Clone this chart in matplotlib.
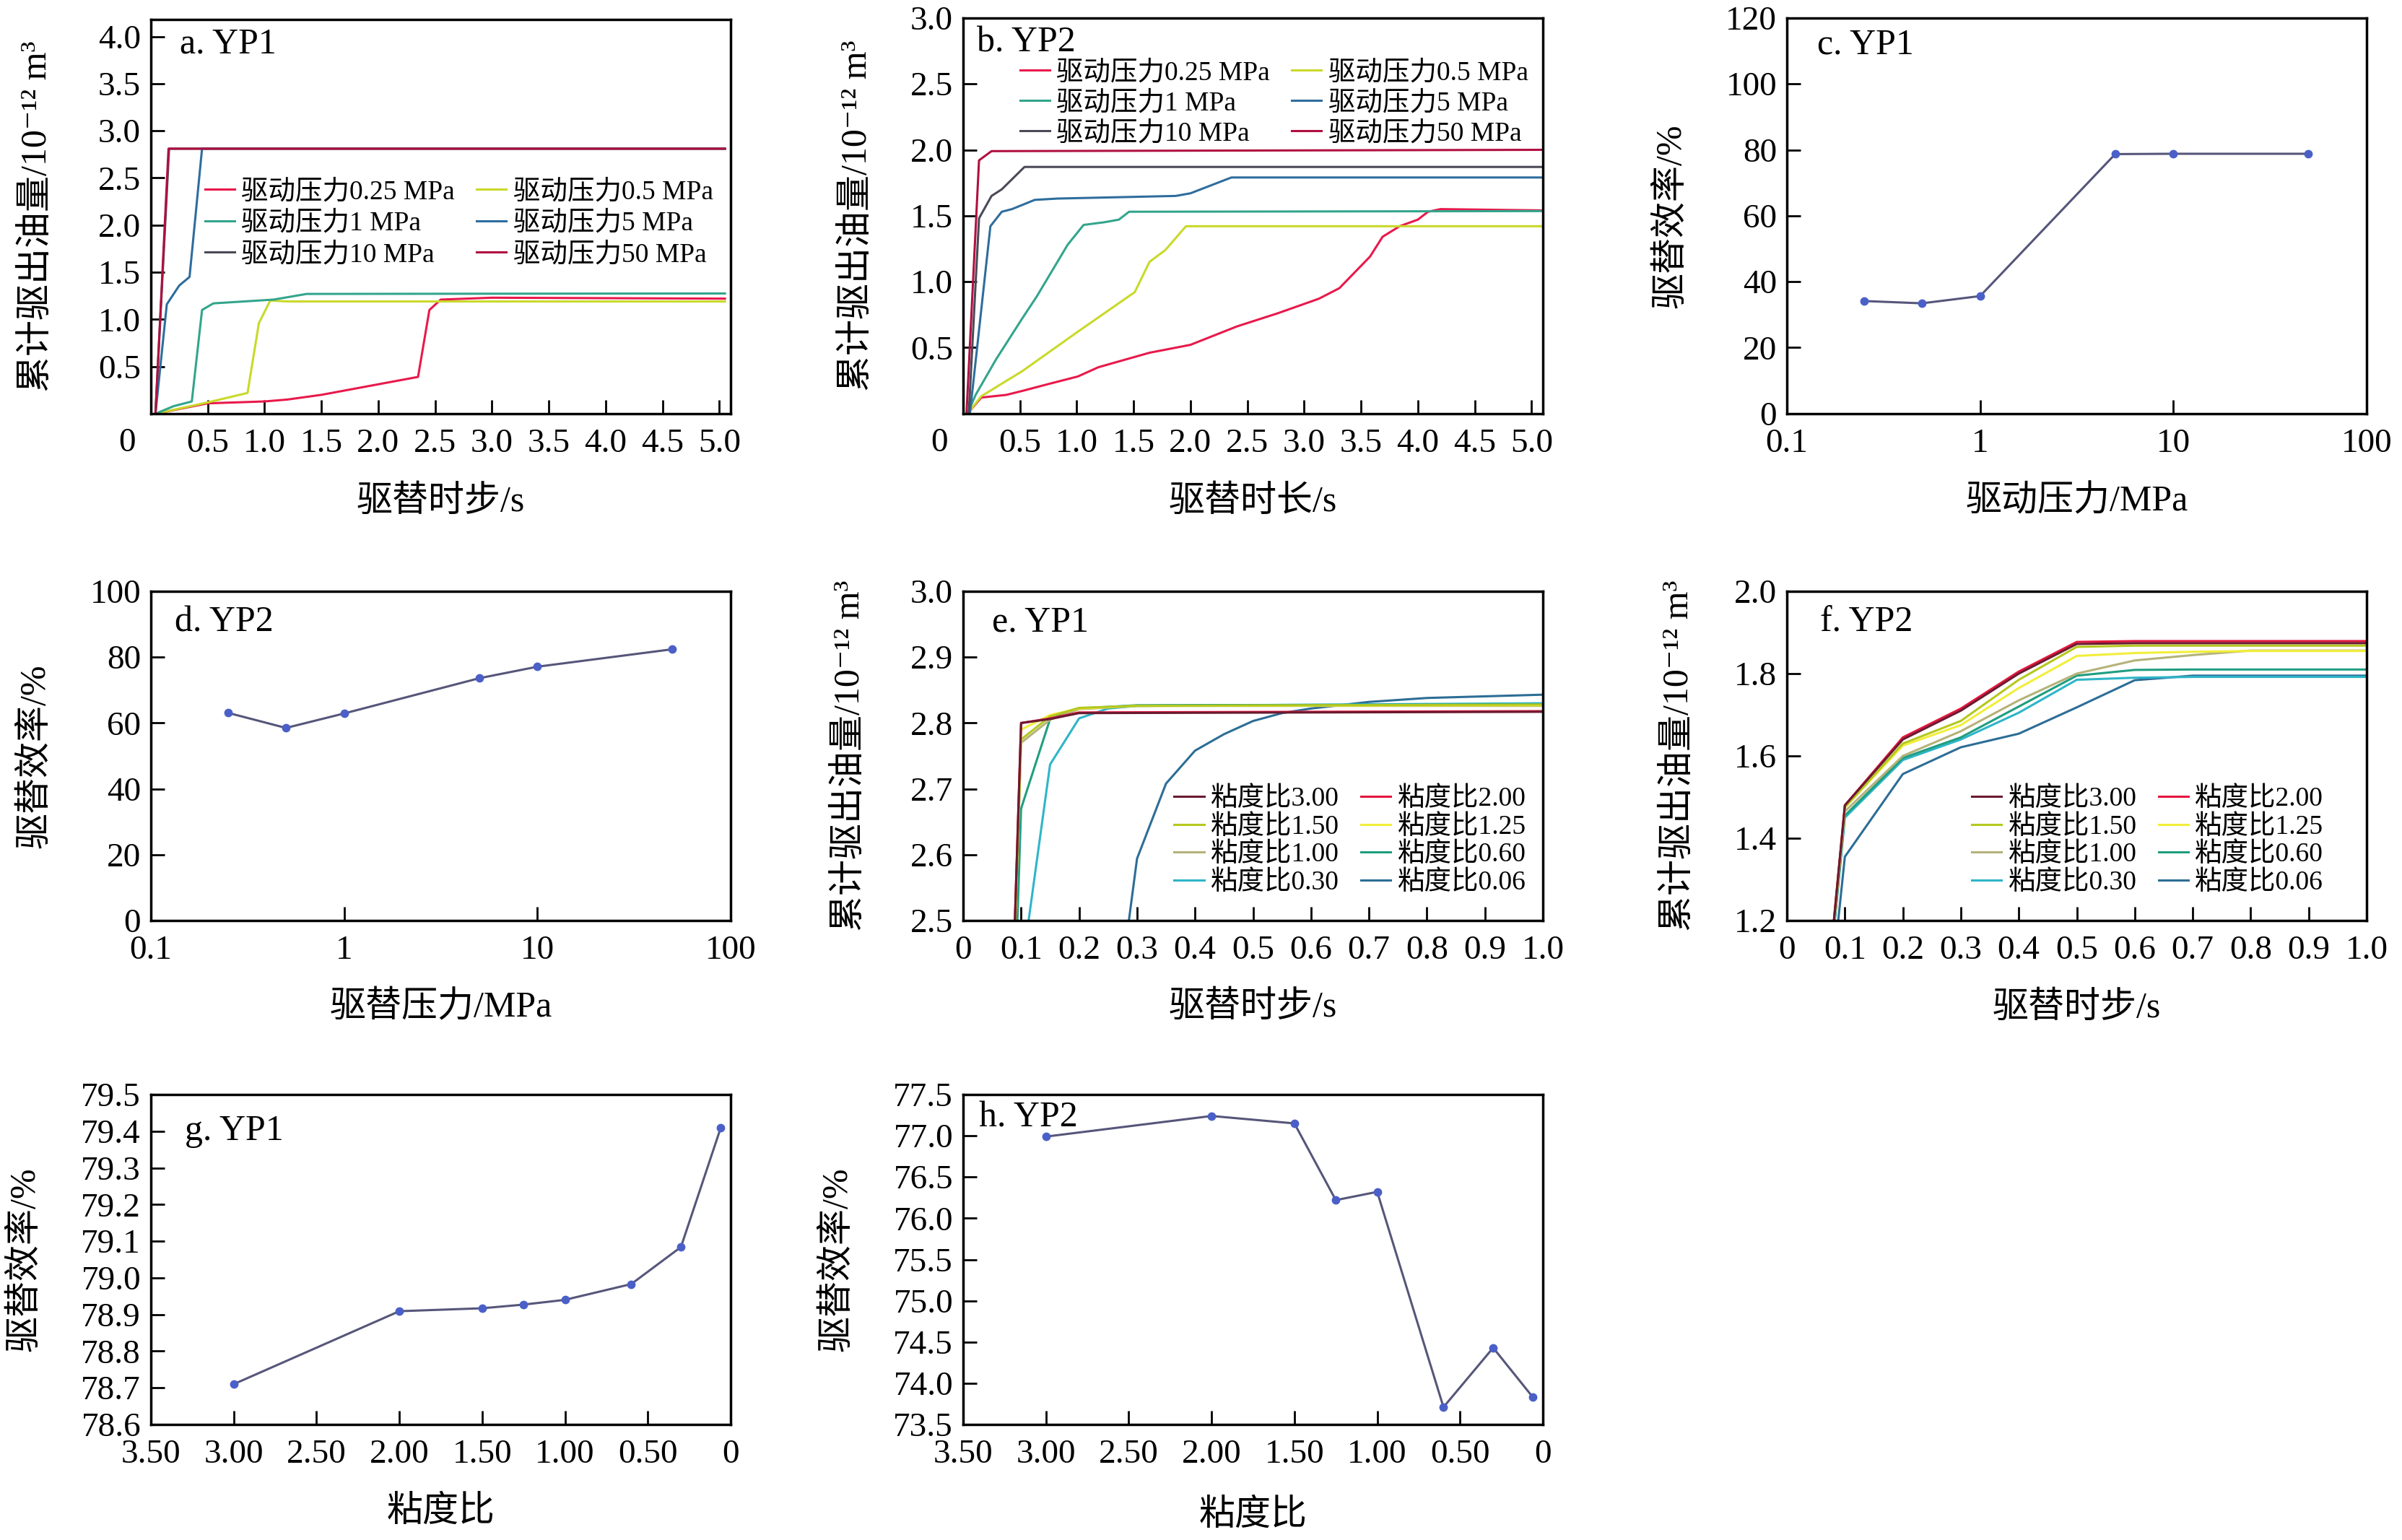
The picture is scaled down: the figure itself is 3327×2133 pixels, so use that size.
import numpy as np
import matplotlib
matplotlib.use("Agg")
import matplotlib.pyplot as plt

plt.rcParams['font.family'] = ['Liberation Serif', 'Noto Sans CJK SC', 'DejaVu Sans']
plt.rcParams['axes.unicode_minus'] = True

# ---------------- DATA ---------------- #
pressure_labels = ["驱动压力0.25 MPa", "驱动压力0.5 MPa", "驱动压力1 MPa",
                   "驱动压力5 MPa", "驱动压力10 MPa", "驱动压力50 MPa"]
pressure_colors = ["#e8194b", "#c9d92a", "#33a58c", "#2e6d9e", "#4a4a58", "#b01040"]

# a. YP1 cumulative oil vs time, one curve per driving pressure
a_t_025 = [0.04, 0.5, 1.0, 1.2, 1.5, 2.35, 2.45, 2.55, 3.0, 5.05]
a_v_025 = [0, 0.11, 0.13, 0.15, 0.2, 0.39, 1.1, 1.21, 1.23, 1.22]
a_t_05 = [0.04, 0.5, 0.85, 0.95, 1.05, 1.2, 5.05]
a_v_05 = [0, 0.12, 0.22, 0.96, 1.2, 1.19, 1.19]
a_t_1 = [0.04, 0.2, 0.36, 0.45, 0.55, 1.08, 1.37, 5.05]
a_v_1 = [0, 0.08, 0.13, 1.1, 1.17, 1.21, 1.27, 1.275]
a_t_5 = [0.04, 0.14, 0.25, 0.34, 0.45, 5.05]
a_v_5 = [0, 1.16, 1.36, 1.45, 2.81, 2.81]
a_t_10 = [0.04, 0.16, 5.05]
a_v_10 = [0, 2.81, 2.81]
a_t_50 = [0.04, 0.155, 5.05]
a_v_50 = [0, 2.81, 2.81]

# b. YP2
b_t_025 = [0.04, 0.16, 0.38, 0.52, 0.74, 1.01, 1.19, 1.64, 2.0, 2.41, 2.77, 3.13,
           3.31, 3.58, 3.69, 3.84, 4.0, 4.09, 4.2, 5.1]
b_v_025 = [0, 0.12, 0.14, 0.17, 0.22, 0.28, 0.35, 0.46, 0.52, 0.66, 0.76, 0.87,
           0.95, 1.19, 1.34, 1.42, 1.47, 1.53, 1.55, 1.54]
b_t_05 = [0.04, 0.16, 0.52, 1.01, 1.51, 1.64, 1.78, 1.96, 5.1]
b_v_05 = [0, 0.13, 0.32, 0.62, 0.92, 1.15, 1.24, 1.42, 1.42]
b_t_1 = [0.04, 0.11, 0.29, 0.52, 0.65, 0.74, 0.92, 1.06, 1.24, 1.37, 1.46, 5.1]
b_v_1 = [0, 0.14, 0.41, 0.72, 0.89, 1.02, 1.28, 1.43, 1.45, 1.47, 1.53, 1.535]
b_t_5 = [0.06, 0.24, 0.34, 0.43, 0.63, 0.83, 1.87, 2.0, 2.36, 5.1]
b_v_5 = [0, 1.42, 1.53, 1.55, 1.62, 1.63, 1.65, 1.67, 1.79, 1.79]
b_t_10 = [0.05, 0.14, 0.25, 0.34, 0.54, 5.1]
b_v_10 = [0, 1.48, 1.65, 1.70, 1.87, 1.87]
b_t_50 = [0.03, 0.14, 0.25, 5.1]
b_v_50 = [0, 1.92, 1.99, 2.0]

# c, d. displacement efficiency vs driving pressure
pressure = [0.25, 0.5, 1, 5, 10, 50]
c_eff = [34.1, 33.4, 35.6, 78.7, 78.8, 78.8]
d_eff = [63.1, 58.5, 62.9, 73.6, 77.1, 82.4]

visc_labels = ["粘度比3.00", "粘度比2.00", "粘度比1.50", "粘度比1.25",
               "粘度比1.00", "粘度比0.60", "粘度比0.30", "粘度比0.06"]
visc_colors = ["#6b1a30", "#e3173e", "#b5c81e", "#f2ee3a",
               "#b5b27a", "#1f9e80", "#2eb5c8", "#2c6d96"]

# e. YP1 cumulative oil vs time, one curve per viscosity ratio
e_t_300 = [0, 0.1, 0.15, 0.2, 1.0]
e_v_300 = [0, 2.80, 2.806, 2.815, 2.817]
e_t_200 = [0, 0.1, 0.15, 0.2, 1.0]
e_v_200 = [0, 2.80, 2.807, 2.816, 2.818]
e_t_150 = [0, 0.1, 0.15, 0.2, 0.3, 1.0]
e_v_150 = [0, 2.775, 2.81, 2.823, 2.826, 2.828]
e_t_125 = [0, 0.1, 0.15, 0.2, 0.3, 1.0]
e_v_125 = [0, 2.79, 2.812, 2.822, 2.826, 2.827]
e_t_100 = [0, 0.1, 0.15, 0.2, 0.3, 1.0]
e_v_100 = [0, 2.77, 2.805, 2.821, 2.826, 2.826]
e_t_060 = [0, 0.1, 0.15, 0.2, 0.3, 1.0]
e_v_060 = [0, 2.67, 2.806, 2.822, 2.827, 2.828]
e_t_030 = [0, 0.1, 0.15, 0.2, 0.25, 0.3, 1.0]
e_v_030 = [0, 2.417, 2.737, 2.807, 2.822, 2.826, 2.83]
e_t_006 = [0, 0.25, 0.3, 0.35, 0.4, 0.45, 0.5, 0.55, 0.6, 0.7, 0.8, 1.0]
e_v_006 = [0, 2.26, 2.594, 2.708, 2.758, 2.783, 2.803, 2.815, 2.822, 2.832, 2.838, 2.843]

# f. YP2
f_t = [0, 0.1, 0.2, 0.3, 0.4, 0.5, 0.6, 0.7, 0.8, 1.0]
f_v_300 = [0, 1.48, 1.64, 1.71, 1.80, 1.872, 1.874, 1.874, 1.874, 1.874]
f_v_200 = [0, 1.48, 1.645, 1.715, 1.805, 1.877, 1.879, 1.879, 1.879, 1.879]
f_v_150 = [0, 1.475, 1.63, 1.685, 1.785, 1.865, 1.868, 1.868, 1.868, 1.868]
f_v_125 = [0, 1.475, 1.625, 1.675, 1.765, 1.843, 1.85, 1.853, 1.855, 1.855]
f_v_100 = [0, 1.465, 1.60, 1.66, 1.735, 1.80, 1.832, 1.845, 1.856, 1.856]
f_v_060 = [0, 1.455, 1.595, 1.645, 1.72, 1.795, 1.809, 1.81, 1.81, 1.81]
f_v_030 = [0, 1.45, 1.59, 1.64, 1.705, 1.785, 1.79, 1.792, 1.792, 1.792]
f_v_006 = [0, 1.355, 1.556, 1.621, 1.654, 1.718, 1.784, 1.795, 1.795, 1.795]

# g, h. displacement efficiency vs viscosity ratio
visc_ratio = [3.0, 2.0, 1.5, 1.25, 1.0, 0.6, 0.3, 0.06]
g_eff = [78.71, 78.909, 78.917, 78.927, 78.94, 78.983, 79.084, 79.409]
h_eff = [76.99, 77.24, 77.15, 76.22, 76.32, 73.71, 74.43, 73.83]

# ---------------- FIGURE ---------------- #
W, H = 3327, 2133
fig = plt.figure(figsize=(W / 100, H / 100), dpi=100)

TICK_FS = 34
LABEL_FS = 36
LEG_FS = 27
oil_label = "累计驱出油量/10⁻¹² m³"
eff_label = "驱替效率/%"


def make_ax(l, t, r, b):
    ax = fig.add_axes([l / W, 1 - b / H, (r - l) / W, (b - t) / H])
    for s in ax.spines.values():
        s.set_linewidth(2.5)
    ax.tick_params(direction='in', length=14, width=2, labelsize=TICK_FS,
                   top=False, right=False)
    ax.tick_params(axis='x', pad=15)
    ax.tick_params(axis='y', pad=10)
    return ax


def set_labels(ax, xl, yl, xy, yx, tag, tx, ty):
    ax.set_xlabel(xl, fontsize=LABEL_FS)
    ax.set_ylabel(yl, fontsize=LABEL_FS)
    ax.xaxis.set_label_coords(0.5, xy)
    ax.yaxis.set_label_coords(yx, 0.5)
    ax.xaxis.label.set_verticalalignment('center')
    ax.yaxis.label.set_verticalalignment('center')
    ax.text(tx, ty, tag, fontsize=LABEL_FS, ha='left', va='center', transform=ax.transAxes)


def legend(ax, handles, labels, x, y, spacing):
    # matplotlib fills legend columns first, reorder to read row by row
    h = handles[0::2] + handles[1::2]
    lb = labels[0::2] + labels[1::2]
    ax.legend(h, lb, ncol=2, loc='upper left', bbox_to_anchor=(x, y), frameon=False,
              fontsize=LEG_FS, handlelength=1.1, handletextpad=0.25, columnspacing=0.8,
              labelspacing=spacing, borderpad=0, borderaxespad=0)


def time_panel(ax, series, ymax):
    lines = []
    for (t, v), c in zip(series, pressure_colors):
        ln, = ax.plot(t, v, color=c, lw=2.2)
        lines.append(ln)
    ax.set_xlim(0, 5.1)
    ax.set_ylim(0, ymax)
    xt = np.arange(1, 11) * 0.5
    ax.set_xticks(xt, labels=[f"{v:.1f}" for v in xt])
    yt = np.arange(1, int(round(ymax / 0.5)) + 1) * 0.5
    yt = yt[yt <= ymax + 1e-9]
    ax.set_yticks(yt, labels=[f"{v:.1f}" for v in yt])
    ax.text(-0.041, -0.075, "0", fontsize=TICK_FS, ha='center', va='center',
            transform=ax.transAxes)
    return lines


# ---------------- a. YP1 ---------------- #
ax = make_ax(209, 27, 1012, 573)
lines = time_panel(ax, [(a_t_025, a_v_025), (a_t_05, a_v_05), (a_t_1, a_v_1),
                        (a_t_5, a_v_5), (a_t_10, a_v_10), (a_t_50, a_v_50)], 4.18)
legend(ax, lines, pressure_labels, 0.093, 0.594, 0.24)
set_labels(ax, "驱替时步/s", oil_label, -0.225, -0.196, "a. YP1", 0.05, 0.938)

# ---------------- b. YP2 ---------------- #
ax = make_ax(1334, 25, 2137, 572.5)
lines = time_panel(ax, [(b_t_025, b_v_025), (b_t_05, b_v_05), (b_t_1, b_v_1),
                        (b_t_5, b_v_5), (b_t_10, b_v_10), (b_t_50, b_v_50)], 3.0)
legend(ax, lines, pressure_labels, 0.098, 0.893, 0.2)
set_labels(ax, "驱替时长/s", oil_label, -0.225, -0.182, "b. YP2", 0.024, 0.937)


# ---------------- c, d. efficiency vs pressure ---------------- #
def pressure_panel(ax, eff, ymax):
    ax.plot(pressure, eff, color="#56567a", lw=2.2, marker='o', ms=7.5,
            mfc="#4a60c8", mec="#4a60c8")
    ax.set_xscale('log')
    ax.set_xlim(0.1, 100)
    ax.set_xticks([0.1, 1, 10, 100], labels=["0.1", "1", "10", "100"])
    ax.minorticks_off()
    ax.set_ylim(0, ymax)
    yt = np.arange(0, ymax + 1, 20)
    ax.set_yticks(yt, labels=[f"{v:d}" for v in yt])


ax = make_ax(2475, 25, 3278, 572.5)
pressure_panel(ax, c_eff, 120)
set_labels(ax, "驱动压力/MPa", eff_label, -0.225, -0.199, "c. YP1", 0.052, 0.932)

ax = make_ax(209, 819, 1012, 1275)
pressure_panel(ax, d_eff, 100)
set_labels(ax, "驱替压力/MPa", eff_label, -0.264, -0.199, "d. YP2", 0.041, 0.906)


# ---------------- e, f. viscosity ratio curves ---------------- #
def visc_panel(ax, series, ylo, yhi, step):
    lines = [None] * len(series)
    # draw low ratios first so high ratios sit on top
    for i in reversed(range(len(series))):
        t, v = series[i]
        lines[i], = ax.plot(t, v, color=visc_colors[i], lw=2.2)
    ax.set_xlim(0, 1.0)
    ax.set_ylim(ylo, yhi)
    xt = np.arange(0, 11) * 0.1
    ax.set_xticks(xt, labels=["0"] + [f"{v:.1f}" for v in xt[1:]])
    n = int(round((yhi - ylo) / step))
    yt = ylo + np.arange(n + 1) * step
    ax.set_yticks(yt, labels=[f"{v:.1f}" for v in yt])
    return lines


ax = make_ax(1334, 819, 2137, 1275)
lines = visc_panel(ax, [(e_t_300, e_v_300), (e_t_200, e_v_200), (e_t_150, e_v_150),
                        (e_t_125, e_v_125), (e_t_100, e_v_100), (e_t_060, e_v_060),
                        (e_t_030, e_v_030), (e_t_006, e_v_006)], 2.5, 3.0, 0.1)
legend(ax, lines, visc_labels, 0.364, 0.407, 0.1)
set_labels(ax, "驱替时步/s", oil_label, -0.264, -0.195, "e. YP1", 0.05, 0.906)

ax = make_ax(2475, 819, 3278, 1275)
lines = visc_panel(ax, [(f_t, f_v_300), (f_t, f_v_200), (f_t, f_v_150), (f_t, f_v_125),
                        (f_t, f_v_100), (f_t, f_v_060), (f_t, f_v_030), (f_t, f_v_006)],
                   1.2, 2.0, 0.2)
legend(ax, lines, visc_labels, 0.319, 0.407, 0.1)
set_labels(ax, "驱替时步/s", oil_label, -0.266, -0.186, "f. YP2", 0.057, 0.906)


# ---------------- g, h. efficiency vs viscosity ratio ---------------- #
def ratio_panel(ax, eff, ylo, yhi, step):
    ax.plot(visc_ratio, eff, color="#56567a", lw=2.2, marker='o', ms=7.5,
            mfc="#4a60c8", mec="#4a60c8")
    ax.set_xlim(3.5, 0)
    xt = [3.5, 3.0, 2.5, 2.0, 1.5, 1.0, 0.5, 0]
    ax.set_xticks(xt, labels=[f"{v:.2f}" for v in xt[:-1]] + ["0"])
    ax.set_ylim(ylo, yhi)
    n = int(round((yhi - ylo) / step))
    yt = ylo + np.arange(n + 1) * step
    ax.set_yticks(yt, labels=[f"{v:.1f}" for v in yt])


ax = make_ax(209, 1516, 1012, 1973)
ratio_panel(ax, g_eff, 78.6, 79.5, 0.1)
set_labels(ax, "粘度比", eff_label, -0.267, -0.217, "g. YP1", 0.059, 0.888)

ax = make_ax(1334, 1516, 2137, 1973)
ratio_panel(ax, h_eff, 73.5, 77.5, 0.5)
set_labels(ax, "粘度比", eff_label, -0.277, -0.217, "h. YP2", 0.028, 0.93)

fig.savefig("out.png", dpi=100)
